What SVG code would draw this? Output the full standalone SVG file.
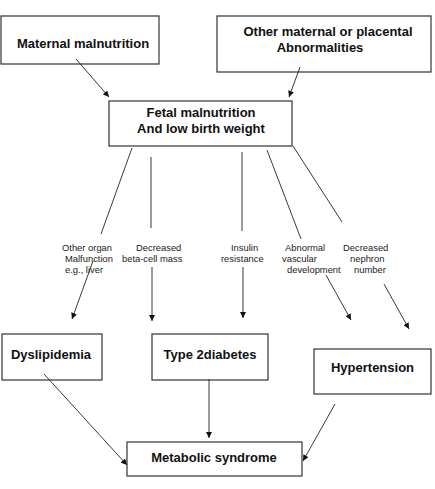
<svg xmlns="http://www.w3.org/2000/svg" width="435" height="489" viewBox="0 0 435 489">
<style>
.box{fill:#fff;stroke:#333;stroke-width:1.2}
.t{font-family:"Liberation Sans",Arial,sans-serif;font-weight:bold;font-size:13px;fill:#111;text-anchor:middle}
.s{font-family:"Liberation Sans",Arial,sans-serif;font-size:9.4px;fill:#222}
.c{stroke:#222;stroke-width:0.9;fill:none}
.ca{stroke:#222;stroke-width:0.9;fill:none;marker-end:url(#ah)}
</style>
<defs>
<marker id="ah" viewBox="0 0 10 10" refX="10" refY="5" markerWidth="7" markerHeight="6" markerUnits="userSpaceOnUse" orient="auto">
<path d="M0,0 L10,5 L0,10 z" fill="#111"/>
</marker>
</defs>
<rect width="435" height="489" fill="#fff"/>
<g id="maternal">
<rect class="box" x="1" y="16" width="158" height="48"/>
<text class="t" x="83" y="48">Maternal malnutrition</text>
</g>
<g id="other">
<rect class="box" x="217" y="16" width="214" height="56"/>
<text class="t" x="328" y="36">Other maternal or placental</text>
<text class="t" x="320" y="52">Abnormalities</text>
</g>
<g id="fetal">
<rect class="box" x="109" y="101" width="183" height="45"/>
<text class="t" x="201" y="117">Fetal malnutrition</text>
<text class="t" x="201" y="133">And low birth weight</text>
</g>
<g id="dyslipidemia">
<rect class="box" x="2" y="334" width="100" height="46"/>
<text class="t" x="51" y="359">Dyslipidemia</text>
</g>
<g id="diabetes">
<rect class="box" x="152" y="334" width="116" height="46"/>
<text class="t" x="210" y="359">Type 2diabetes</text>
</g>
<g id="hypertension">
<rect class="box" x="314" y="349" width="117" height="45"/>
<text class="t" x="372.5" y="372">Hypertension</text>
</g>
<g id="metabolic">
<rect class="box" x="127" y="442" width="175" height="34"/>
<text class="t" x="214" y="462">Metabolic syndrome</text>
</g>
<g id="labels">
<text class="s" x="62" y="251">Other organ</text>
<text class="s" x="65" y="262">Malfunction</text>
<text class="s" x="65" y="273">e.g., liver</text>
<text class="s" x="136" y="251">Decreased</text>
<text class="s" x="122" y="262">beta-cell mass</text>
<text class="s" x="231" y="251">Insulin</text>
<text class="s" x="221" y="262">resistance</text>
<text class="s" x="285" y="251">Abnormal</text>
<text class="s" x="282" y="262">vascular</text>
<text class="s" x="287" y="273">development</text>
<text class="s" x="343" y="251">Decreased</text>
<text class="s" x="350" y="262">nephron</text>
<text class="s" x="354" y="273">number</text>
</g>
<g id="connectors">
<line class="ca" x1="76" y1="59" x2="109" y2="97"/>
<line class="ca" x1="300" y1="67" x2="289" y2="97"/>
<line class="c" x1="132" y1="148" x2="101" y2="234"/>
<line class="c" x1="151" y1="157" x2="151" y2="228"/>
<line class="c" x1="242" y1="152" x2="242" y2="231"/>
<line class="c" x1="267" y1="150" x2="301" y2="239"/>
<line class="c" x1="293" y1="146" x2="342" y2="222"/>
<line class="ca" x1="93" y1="261" x2="72" y2="319"/>
<line class="ca" x1="152" y1="267" x2="152" y2="321"/>
<line class="ca" x1="243" y1="267" x2="243" y2="318"/>
<line class="ca" x1="326" y1="275" x2="351" y2="320"/>
<line class="ca" x1="384" y1="284" x2="409" y2="329"/>
<line class="ca" x1="44" y1="374" x2="127" y2="465"/>
<line class="ca" x1="209" y1="379" x2="209" y2="438"/>
<line class="ca" x1="335" y1="404" x2="303" y2="461"/>
</g>
</svg>
